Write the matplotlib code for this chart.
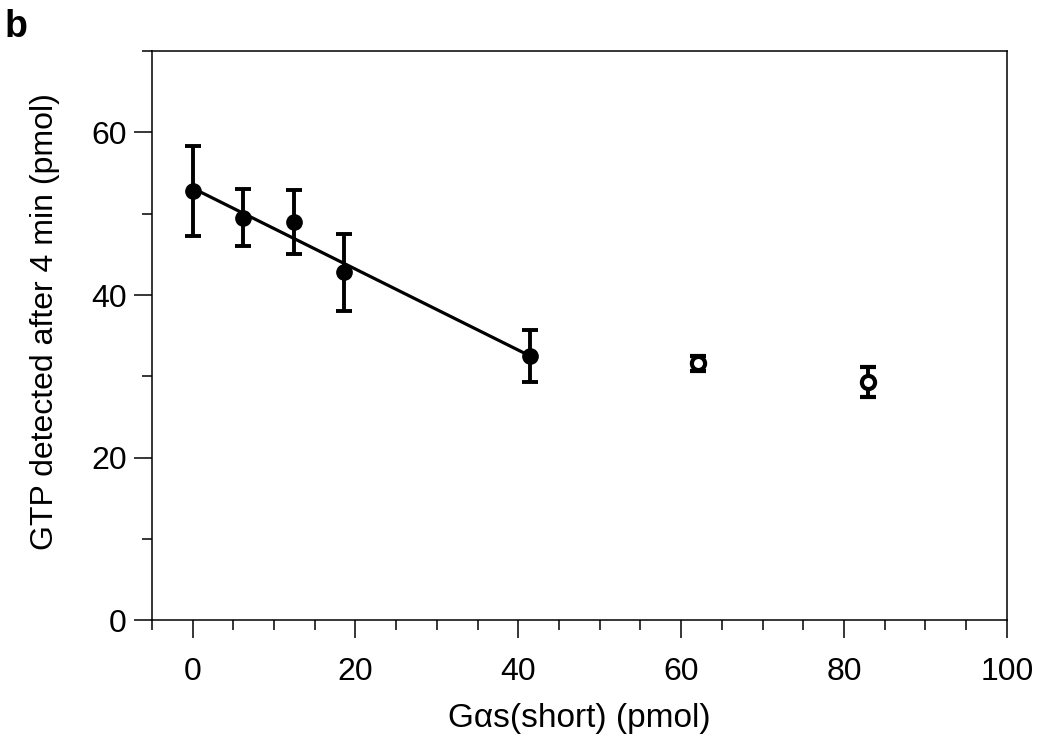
import matplotlib
matplotlib.use("Agg")
import matplotlib.pyplot as plt
import numpy as np
from matplotlib.ticker import MultipleLocator

plt.rcParams['font.family'] = ['Liberation Sans', 'DejaVu Sans']

# filled points (used for the linear fit)
gas_fit = [0.0, 6.2, 12.4, 18.6, 41.4]
gtp_fit = [52.8, 49.5, 49.0, 42.8, 32.5]
err_fit = [5.5, 3.5, 3.9, 4.7, 3.2]

# open points (excluded from fit)
gas_open = [62.1, 82.9]
gtp_open = [31.6, 29.3]
err_open = [0.9, 1.8]

fig = plt.figure(figsize=(10.38, 7.4), dpi=100)
ax = fig.add_axes([0.1464, 0.1615, 0.8235, 0.7696])

slope, intercept = np.polyfit(gas_fit, gtp_fit, 1)
xl = np.array([gas_fit[0], gas_fit[-1]])
ax.plot(xl, slope * xl + intercept, color='black', lw=2.3, zorder=2)

ax.errorbar(gas_fit, gtp_fit, yerr=err_fit, fmt='o', color='black', ms=11,
            elinewidth=2.8, capsize=5.5, capthick=2.8, zorder=3)
ax.errorbar(gas_open, gtp_open, yerr=err_open, fmt='o', color='black', ms=9.5,
            mfc='white', mec='black', mew=3.0,
            elinewidth=2.8, capsize=5.5, capthick=2.8, zorder=3)

ax.set_xlim(-5, 100)
ax.set_ylim(0, 70)
ax.xaxis.set_major_locator(MultipleLocator(20))
ax.xaxis.set_minor_locator(MultipleLocator(5))
ax.yaxis.set_major_locator(MultipleLocator(20))
ax.yaxis.set_minor_locator(MultipleLocator(10))
ax.tick_params(which='major', direction='out', length=13, width=1.1, labelsize=23)
ax.tick_params(axis='x', which='major', pad=13)
ax.tick_params(axis='y', which='major', pad=5)
ax.tick_params(which='minor', direction='out', length=7, width=1.1)
for s in ax.spines.values():
    s.set_linewidth(1.1)

ax.set_xlabel('G\u03b1s(short) (pmol)', fontsize=24)
ax.set_ylabel('GTP detected after 4 min (pmol)', fontsize=23)
ax.xaxis.set_label_coords(0.5, -0.145)
ax.yaxis.set_label_coords(-0.108, 0.525)

fig.text(0.004, 0.988, 'b', fontsize=27, fontweight='bold', va='top')

fig.savefig('out.png', dpi=100)
